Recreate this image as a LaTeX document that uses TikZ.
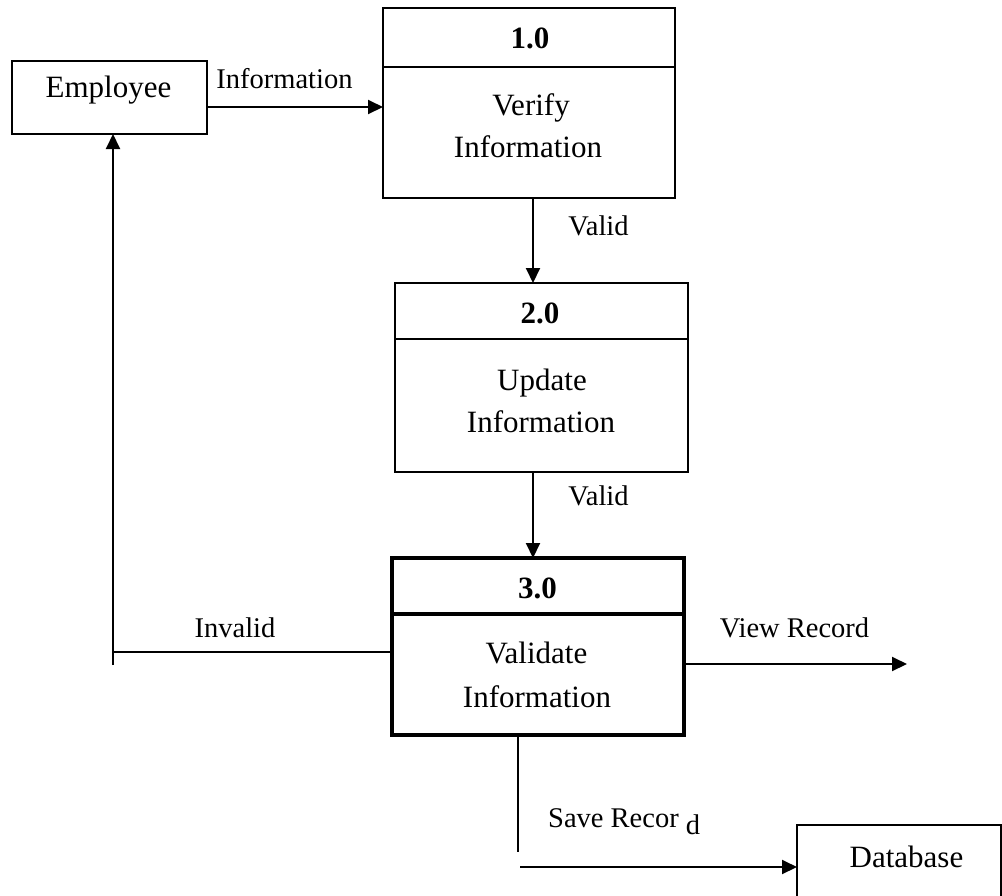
\documentclass[tikz,border=0pt]{standalone}
\usepackage{fontspec}
\setmainfont{Liberation Serif}
\usetikzlibrary{arrows.meta}
\begin{document}
\begin{tikzpicture}[x=1pt,y=-1pt,
  box/.style={draw, rectangle, inner sep=0pt, outer sep=0pt, anchor=north west, line width=1.6pt},
  boxtxt/.style={anchor=base, inner sep=0pt, font=\fontsize{31}{37}\selectfont},
  flowlbl/.style={anchor=base, inner sep=0pt, font=\fontsize{28.5}{34}\selectfont},
  flow/.style={line width=2pt},
  arr/.style={flow, -{Triangle[length=15pt,width=14pt]}}]
\clip (0,0) rectangle (1002,895);

% external entities and processes
\node[box, minimum width=195pt, minimum height=73pt] (emp) at (12,61) {};
\node[box, minimum width=292pt, minimum height=190pt] (p1) at (383,8) {};
\node[box, minimum width=293pt, minimum height=189pt] (p2) at (395,283) {};
\node[box, line width=3.3pt, minimum width=292pt, minimum height=177pt] (p3) at (392,558) {};
\node[box, minimum width=204pt, minimum height=100pt] (db) at (797,825) {};

% process header dividers
\draw[line width=1.6pt] (p1.west |- 0,67) -- (p1.east |- 0,67);
\draw[line width=1.6pt] (p2.west |- 0,339) -- (p2.east |- 0,339);
\draw[line width=3.3pt] (p3.west |- 0,614) -- (p3.east |- 0,614);

% box texts
\node[boxtxt] (tEmp) at (108.5,97) {Employee};
\node[boxtxt] (n1) at (530,48) {\textbf{1.0}};
\node[boxtxt] (v1a) at (531,115) {Verify};
\node[boxtxt] (v1b) at (528,157) {Information};
\node[boxtxt] (n2) at (540,323) {\textbf{2.0}};
\node[boxtxt] (u2a) at (542,390) {Update};
\node[boxtxt] (u2b) at (541,432) {Information};
\node[boxtxt] (n3) at (537.5,598) {\textbf{3.0}};
\node[boxtxt] (v3a) at (536.5,663) {Validate};
\node[boxtxt] (v3b) at (537,707) {Information};
\node[boxtxt] (tDb) at (906.5,867) {Database};

% connector end points
\coordinate (invJ) at (113,652);
\coordinate (invS) at (113,665);
\coordinate (vrEnd) at (907,664);
\coordinate (svTop) at (518,852);
\coordinate (svStart) at (520,867);

% data flows
\draw[arr] (emp.east |- 0,107) -- (p1.west |- 0,107);
\draw[arr] (p1.south -| 533,0) -- (p2.north -| 533,0);
\draw[arr] (p2.south -| 533,0) -- (p3.north -| 533,0);
\draw[flow] (p3.west |- 0,652) -- (invJ);
\draw[arr] (invS) -- (emp.south -| invS);
\draw[arr] (p3.east |- 0,664) -- (vrEnd);
\draw[flow] (p3.south -| svTop) -- (svTop);
\draw[arr] (svStart) -- (db.west |- svStart);

% flow labels
\node[flowlbl] (lInfo) at (284.5,88) {Information};
\node[flowlbl] (lV1) at (598.5,235) {Valid};
\node[flowlbl] (lV2) at (598.5,505) {Valid};
\node[flowlbl] (lInv) at (235,637) {Invalid};
\node[flowlbl] (lView) at (794.5,637) {View Record};
\node[flowlbl, anchor=base west] (lSave) at (548,827) {Save Recor \raisebox{-7pt}{d}};
\end{tikzpicture}
\end{document}
